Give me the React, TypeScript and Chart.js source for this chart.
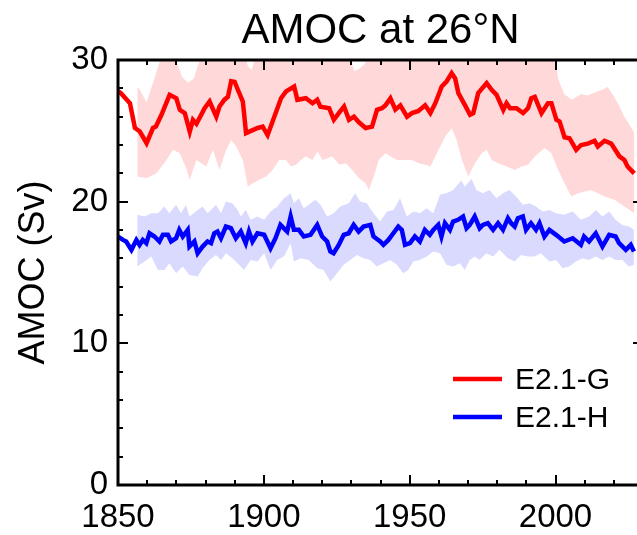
import React, { useEffect, useRef } from 'react';
import { Chart, registerables } from 'chart.js';

Chart.register(...registerables);

const TITLE = 'AMOC at 26°N';
const Y_TITLE = 'AMOC (Sv)';
const SERIES_G = 'E2.1-G';
const SERIES_H = 'E2.1-H';
const X_MIN = 1850;
const X_MAX = 2030;
const Y_MIN = 0;
const Y_MAX = 30;
const X_STEP = 50;
const Y_STEP = 10;
const X_MINOR = 10;
const Y_MINOR = 2;

const RED = '#ff0000';
const BLUE = '#0000ff';
const RED_BAND = '#ffd9d9';
const BLUE_BAND = '#dadaff';
const FONT = "'Liberation Sans', Arial, Helvetica, sans-serif";

// E2.1-G ensemble mean [year, Sv]
const gMean: number[][] = [
  [1850, 27.8], [1851, 27.66], [1854.1, 26.95], [1855.8, 25.2], [1857.5, 24.95], [1859.8, 24.13],
  [1862, 25.2], [1863, 25.3], [1864.9, 26.13], [1867.7, 27.54], [1870, 27.3], [1871.2, 26.48],
  [1872.9, 26.25], [1874.6, 24.95], [1875.7, 25.78], [1876.9, 25.5], [1879.7, 26.6], [1881.4, 27.07],
  [1883.7, 26.0], [1884.8, 26.72], [1886.5, 27.2], [1887.7, 27.4], [1888.8, 28.5], [1890, 28.45],
  [1891.1, 27.9], [1892.8, 27.07], [1893.9, 24.84], [1895.6, 25.0], [1897.9, 25.2], [1899.6, 25.3],
  [1901.3, 24.7], [1903, 25.66], [1905.9, 27.3], [1907.6, 27.78], [1910.4, 28.13], [1911.5, 27.19],
  [1914.4, 27.3], [1916.7, 26.95], [1918.3, 27.2], [1919.4, 26.7], [1922.4, 26.6], [1924, 25.78],
  [1925.7, 26.25], [1927.5, 26.72], [1929.2, 25.78], [1930.9, 26.0], [1932.6, 25.6], [1934.9, 25.2],
  [1937.1, 25.3], [1938.8, 26.48], [1940.5, 26.6], [1941.7, 26.8], [1943.4, 27.3], [1945.1, 26.5],
  [1946.8, 26.8], [1949.1, 26.0], [1950.8, 26.25], [1953, 26.4], [1955.3, 26.8], [1957.1, 26.25],
  [1958.8, 26.95], [1961, 28.13], [1962.7, 28.5], [1964.4, 29.07], [1965.6, 28.7], [1966.7, 27.66],
  [1969, 26.8], [1970.7, 26.13], [1971.8, 26.25], [1973.5, 27.66], [1976.4, 28.37], [1978.1, 27.9],
  [1979.8, 27.54], [1982.1, 26.48], [1983.2, 26.95], [1984.4, 26.6], [1986.6, 26.6], [1988.9, 26.25],
  [1990.6, 26.6], [1991.7, 27.3], [1992.9, 27.4], [1995.2, 26.25], [1997.4, 26.95], [1998.6, 26.95],
  [2000.3, 25.78], [2001.4, 25.66], [2003.1, 24.55], [2004.8, 24.48], [2007.1, 23.66], [2008.8, 24.0],
  [2011.1, 24.1], [2013.4, 24.3], [2014.5, 23.9], [2016.8, 24.3], [2019.1, 24.1], [2021.9, 23.2],
  [2023.6, 22.95], [2024.7, 22.48], [2027, 22.0],
];

// E2.1-G ensemble spread, upper and lower bounds
const gUpper: number[][] = [
  [1856.6, 28.1], [1857.5, 27.9], [1859.8, 27.0], [1862, 28.4], [1864.3, 29.9], [1866, 30.5],
  [1869, 30.3], [1870.6, 29.6], [1872, 28.8], [1874, 28.4], [1876, 28.7], [1877.2, 29.5],
  [1879, 30.4], [1885, 30.6], [1893.5, 30.4], [1894.5, 29.6], [1895.8, 29.3], [1897.2, 30.3],
  [1905, 30.6], [1915, 30.5], [1925, 30.6], [1929.5, 30.2], [1931, 29.2], [1932.8, 29.4],
  [1934.5, 29.7], [1936, 30.4], [1950, 30.6], [1970, 30.6], [1990, 30.6], [1998.5, 30.3],
  [2000, 29.8], [2001, 28.6], [2003, 27.6], [2005.5, 27.2], [2008.8, 27.6], [2011, 27.5],
  [2013.4, 27.7], [2016, 27.9], [2017.9, 28.1], [2020.1, 27.4], [2022, 26.7], [2023.6, 26.0],
  [2025.5, 25.4], [2027, 24.84],
];

const gLower: number[][] = [
  [1856.6, 21.77], [1859.8, 21.65], [1863.2, 22.0], [1866.6, 22.95], [1868.9, 23.66], [1871.2, 23.42],
  [1873.4, 22.36], [1874.6, 21.54], [1876.9, 22.95], [1880.3, 22.48], [1882.5, 23.66], [1884.8, 22.24],
  [1887.1, 23.66], [1888.8, 24.36], [1890.5, 23.9], [1892.8, 22.95], [1894.5, 21.07], [1896.2, 21.3],
  [1898.5, 21.54], [1900.8, 21.77], [1903, 22.24], [1905.3, 22.95], [1907.6, 22.95], [1909.3, 22.48],
  [1911, 22.6], [1912.7, 22.95], [1914.4, 23.19], [1916.7, 22.95], [1918.4, 23.54], [1920.1, 22.95],
  [1923.5, 23.19], [1925.8, 22.6], [1928.1, 22.72], [1930.3, 22.24], [1932.6, 21.65], [1934.9, 21.3],
  [1936, 20.83], [1937.7, 21.77], [1939.4, 22.95], [1941.7, 23.42], [1943.4, 23.19], [1945.7, 22.95],
  [1948.5, 22.95], [1950.8, 22.95], [1953.1, 22.72], [1955.4, 22.6], [1957.1, 22.48], [1959.9, 23.66],
  [1962.2, 24.6], [1964.4, 25.19], [1966.1, 24.36], [1967.9, 22.95], [1970.1, 21.77], [1972.4, 22.72],
  [1974.7, 23.42], [1976.4, 23.66], [1978.1, 22.95], [1980.4, 22.72], [1983.2, 22.48], [1986.1, 22.24],
  [1988.3, 22.48], [1990.6, 22.6], [1992.9, 23.19], [1996.3, 23.78], [1998.6, 23.42], [2000.9, 22.24],
  [2003.1, 21.3], [2005.4, 20.36], [2007.7, 20.6], [2012.2, 20.83], [2016.8, 20.36], [2020.2, 20.13],
  [2023.6, 19.66], [2027, 19.19],
];

// E2.1-H ensemble mean [year, Sv]
const hMean: number[][] = [
  [1850, 17.54], [1851.7, 17.3], [1852.8, 17.19], [1854.6, 16.6], [1856.3, 17.3], [1857.4, 16.95],
  [1858.5, 17.3], [1859.7, 17.07], [1860.8, 17.77], [1862.5, 17.54], [1864.2, 17.19], [1865.4, 17.66],
  [1867.1, 17.66], [1868.2, 17.19], [1869.9, 17.42], [1871, 18.01], [1872.2, 17.54], [1873.9, 18.01],
  [1874.5, 16.83], [1876.2, 17.19], [1877.3, 16.36], [1879, 16.83], [1880.7, 17.19], [1881.9, 17.07],
  [1883, 17.77], [1884.1, 17.89], [1885.3, 17.42], [1887, 18.24], [1888.7, 18.13], [1890.4, 17.42],
  [1892.1, 17.89], [1893.8, 17.07], [1894.9, 17.89], [1896.1, 17.19], [1897.8, 17.77], [1900.1, 17.66],
  [1902.3, 16.71], [1904, 17.42], [1905.7, 18.36], [1908, 17.89], [1909.2, 18.95], [1910.3, 18.01],
  [1912, 18.01], [1913.7, 17.54], [1916, 17.66], [1918.3, 18.36], [1920, 17.54], [1921.7, 17.19],
  [1922.8, 16.48], [1923.9, 16.36], [1925.7, 16.95], [1927.4, 17.66], [1929.1, 17.77], [1930.8, 18.36],
  [1932.5, 17.89], [1934.2, 18.24], [1936.5, 18.36], [1937.6, 17.54], [1939.9, 17.19], [1941, 16.95],
  [1942.7, 17.3], [1944.4, 17.77], [1946.1, 18.24], [1947.3, 18.01], [1948.4, 16.95], [1950.1, 17.07],
  [1951.8, 17.54], [1953.5, 17.19], [1955.2, 18.01], [1956.9, 17.66], [1958.1, 18.01], [1959.8, 18.36],
  [1960.9, 17.54], [1962.1, 18.48], [1963.8, 18.01], [1964.9, 18.6], [1966.6, 18.72], [1968.3, 18.95],
  [1969.5, 18.13], [1970.6, 18.36], [1972.3, 18.95], [1974, 18.13], [1975.1, 18.36], [1976.8, 18.48],
  [1978.6, 18.01], [1980.3, 18.48], [1982, 18.01], [1983.7, 18.83], [1984.8, 18.48], [1986, 18.24],
  [1987.1, 18.83], [1988.8, 18.95], [1989.9, 18.01], [1991.6, 18.48], [1993.3, 18.01], [1994.5, 18.48],
  [1996.2, 17.54], [1997.9, 18.01], [2000.2, 17.66], [2003, 17.19], [2005.9, 17.42], [2008.7, 16.95],
  [2009.8, 17.54], [2011.5, 17.19], [2013.8, 17.77], [2016.1, 16.83], [2018.4, 17.66], [2020.6, 17.54],
  [2021.8, 17.07], [2024.1, 16.6], [2025.8, 16.95], [2026.9, 16.48],
];

const hUpper: number[][] = [
  [1856.6, 19.07], [1859.1, 18.95], [1861.4, 19.19], [1863.7, 19.19], [1865.9, 19.66], [1867.6, 19.19],
  [1869.9, 19.78], [1871.6, 19.19], [1873.3, 19.78], [1874.5, 18.95], [1876.7, 19.3], [1879, 19.66],
  [1880.7, 19.19], [1883.6, 19.78], [1885.3, 19.19], [1887, 20.01], [1889.2, 19.89], [1891, 19.42],
  [1892.1, 18.95], [1893.8, 19.42], [1895.5, 18.72], [1897.8, 18.95], [1900.1, 18.72], [1902.3, 19.3],
  [1904.6, 19.66], [1906.9, 20.25], [1909.2, 20.6], [1910.3, 19.89], [1912, 20.25], [1913.7, 19.54],
  [1915.4, 19.78], [1917.7, 20.13], [1919.4, 19.78], [1921.7, 18.95], [1923.9, 19.19], [1926.2, 19.66],
  [1929.1, 19.89], [1931.3, 20.6], [1933, 20.01], [1935.3, 19.89], [1937.6, 19.19], [1939.9, 18.6],
  [1942.2, 19.3], [1944.4, 19.42], [1946.7, 20.25], [1949, 18.95], [1951.3, 19.3], [1953.5, 19.19],
  [1955.8, 19.54], [1958.1, 19.19], [1960.4, 20.48], [1962.6, 20.6], [1964.9, 20.83], [1967.7, 21.5],
  [1968.9, 21.07], [1971.2, 21.6], [1972.9, 20.83], [1975.1, 20.6], [1977.4, 20.83], [1979.7, 20.25],
  [1982, 20.6], [1984.2, 20.83], [1986.5, 20.36], [1988.8, 19.78], [1991.1, 19.89], [1993.3, 19.66],
  [1995.6, 19.3], [1997.9, 19.42], [2000.2, 19.19], [2003, 19.07], [2005.9, 19.3], [2008.7, 18.72],
  [2011.5, 18.95], [2013.8, 19.42], [2016.1, 18.95], [2018.4, 19.3], [2020.6, 18.72], [2022.9, 18.36],
  [2025.2, 18.24], [2026.9, 18.01],
];

const hLower: number[][] = [
  [1856.6, 15.42], [1859.1, 15.77], [1861.4, 16.13], [1863.7, 15.18], [1865.9, 15.18], [1867.6, 15.65],
  [1869.9, 14.95], [1872.2, 15.42], [1874.5, 14.83], [1877.3, 14.71], [1879, 15.3], [1881.3, 15.89],
  [1883.6, 16.24], [1885.3, 15.89], [1887, 16.36], [1889.2, 16.01], [1891, 15.65], [1893.2, 15.18],
  [1895.5, 15.89], [1897.8, 15.77], [1900.1, 16.36], [1902.3, 15.18], [1904.6, 15.89], [1906.9, 16.13],
  [1909.2, 17.07], [1910.3, 15.77], [1912.6, 16.01], [1915.4, 15.89], [1918.3, 15.3], [1920.5, 15.18],
  [1922.8, 14.36], [1925.1, 14.95], [1927.4, 15.54], [1929.6, 15.89], [1931.9, 16.24], [1934.2, 16.01],
  [1936.5, 15.89], [1938.7, 15.42], [1941, 15.65], [1943.3, 15.89], [1945.6, 15.54], [1947.8, 14.95],
  [1949.5, 15.18], [1951.3, 15.77], [1953.5, 15.89], [1955.8, 16.13], [1958.1, 16.48], [1960.4, 16.36],
  [1962.6, 15.54], [1964.9, 15.42], [1967.2, 15.65], [1968.9, 15.18], [1970.6, 15.89], [1972.3, 16.13],
  [1974, 15.89], [1976.3, 16.36], [1978.6, 16.13], [1980.8, 16.6], [1983.7, 16.01], [1986, 15.77],
  [1988.2, 16.24], [1990.5, 16.13], [1992.8, 16.13], [1995, 16.36], [1997.9, 15.77], [2000.2, 15.89],
  [2002.4, 15.3], [2004.7, 15.42], [2007, 15.77], [2009.3, 16.01], [2011.5, 15.89], [2013.8, 16.13],
  [2016.1, 15.89], [2018.4, 16.13], [2020.6, 15.89], [2022.9, 15.89], [2025.2, 15.42], [2026.9, 15.54],
];

const toXY = (arr: number[][]) => arr.map(([x, y]) => ({ x, y }));

const framePlugin = {
  id: 'frame',
  afterDatasetsDraw(chart: any) {
    const { ctx, chartArea, scales } = chart;
    const { left, right, top, bottom } = chartArea;
    const xs = scales.x;
    const ys = scales.y;
    ctx.save();
    ctx.strokeStyle = '#000';
    ctx.lineWidth = 2;
    ctx.beginPath();
    for (let v = X_MIN; v <= X_MAX; v += X_MINOR) {
      const px = Math.round(xs.getPixelForValue(v));
      const len = (v - X_MIN) % X_STEP === 0 ? 10 : 5;
      ctx.moveTo(px, bottom);
      ctx.lineTo(px, bottom - len);
      ctx.moveTo(px, top);
      ctx.lineTo(px, top + len);
    }
    for (let v = Y_MIN; v <= Y_MAX; v += Y_MINOR) {
      const py = Math.round(ys.getPixelForValue(v));
      const len = (v - Y_MIN) % Y_STEP === 0 ? 10 : 5;
      ctx.moveTo(left, py);
      ctx.lineTo(left + len, py);
      ctx.moveTo(right, py);
      ctx.lineTo(right - len, py);
    }
    ctx.stroke();
    ctx.lineWidth = 3;
    ctx.strokeRect(left, top, right - left, bottom - top);
    ctx.restore();
  },
  afterDraw(chart: any) {
    const { ctx, chartArea } = chart;
    ctx.save();
    ctx.fillStyle = '#000';
    ctx.font = `42px ${FONT}`;
    ctx.textAlign = 'center';
    ctx.textBaseline = 'alphabetic';
    ctx.fillText(TITLE, (chartArea.left + chartArea.right) / 2, 43);

    const items = [
      { label: SERIES_G, color: RED, y: 379 },
      { label: SERIES_H, color: BLUE, y: 417 },
    ];
    ctx.font = `30px ${FONT}`;
    ctx.textAlign = 'left';
    ctx.textBaseline = 'middle';
    for (const it of items) {
      ctx.strokeStyle = it.color;
      ctx.lineWidth = 4.5;
      ctx.beginPath();
      ctx.moveTo(453, it.y);
      ctx.lineTo(502, it.y);
      ctx.stroke();
      ctx.fillStyle = '#000';
      ctx.fillText(it.label, 515, it.y + 2);
    }
    ctx.restore();
  },
};

export default function App() {
  const ref = useRef<HTMLCanvasElement | null>(null);

  useEffect(() => {
    if (!ref.current) return;
    const line = { pointRadius: 0, pointHoverRadius: 0, tension: 0 };
    const chart = new Chart(ref.current, {
      type: 'line',
      data: {
        datasets: [
          { label: SERIES_G + ' upper', data: toXY(gUpper), borderWidth: 0, backgroundColor: RED_BAND, fill: '+1', order: 5, ...line },
          { label: SERIES_G + ' lower', data: toXY(gLower), borderWidth: 0, backgroundColor: RED_BAND, fill: false, order: 5, ...line },
          { label: SERIES_H + ' upper', data: toXY(hUpper), borderWidth: 0, backgroundColor: BLUE_BAND, fill: '+1', order: 4, ...line },
          { label: SERIES_H + ' lower', data: toXY(hLower), borderWidth: 0, backgroundColor: BLUE_BAND, fill: false, order: 4, ...line },
          { label: SERIES_G, data: toXY(gMean), borderColor: RED, borderWidth: 4.5, fill: false, order: 1, borderJoinStyle: 'miter', ...line },
          { label: SERIES_H, data: toXY(hMean), borderColor: BLUE, borderWidth: 4.5, fill: false, order: 2, borderJoinStyle: 'miter', ...line },
        ] as any,
      },
      options: {
        animation: false,
        responsive: false,
        maintainAspectRatio: false,
        events: [],
        layout: { padding: { left: 0, right: 17, top: 60, bottom: 0 } },
        plugins: {
          legend: { display: false },
          title: { display: false },
          tooltip: { enabled: false },
        },
        scales: {
          x: {
            type: 'linear',
            min: X_MIN,
            max: X_MAX,
            grid: { display: false, drawTicks: false },
            border: { display: false },
            ticks: {
              stepSize: X_STEP,
              includeBounds: false,
              autoSkip: false,
              maxRotation: 0,
              padding: 13,
              color: '#000',
              font: { family: FONT, size: 33 },
              callback: (v: any) => String(v),
            },
            afterFit: (s: any) => { s.height = 50; },
          },
          y: {
            type: 'linear',
            min: Y_MIN,
            max: Y_MAX,
            grid: { display: false, drawTicks: false },
            border: { display: false },
            ticks: {
              stepSize: Y_STEP,
              padding: 10,
              color: '#000',
              font: { family: FONT, size: 33 },
              callback: (v: any) => String(v),
            },
            title: {
              display: true,
              text: Y_TITLE,
              color: '#000',
              font: { family: FONT, size: 36, lineHeight: 1.2 },
              padding: { top: 12, bottom: 0 },
            },
            afterFit: (s: any) => { s.width = 118; },
          },
        },
      } as any,
      plugins: [framePlugin],
    });
    return () => chart.destroy();
  }, []);

  return (
    <div style={{ position: 'absolute', left: 0, top: 0, width: 637, height: 535, overflow: 'hidden', background: '#fff' }}>
      <canvas ref={ref} width={660} height={535} style={{ width: 660, height: 535, display: 'block' }} />
    </div>
  );
}
